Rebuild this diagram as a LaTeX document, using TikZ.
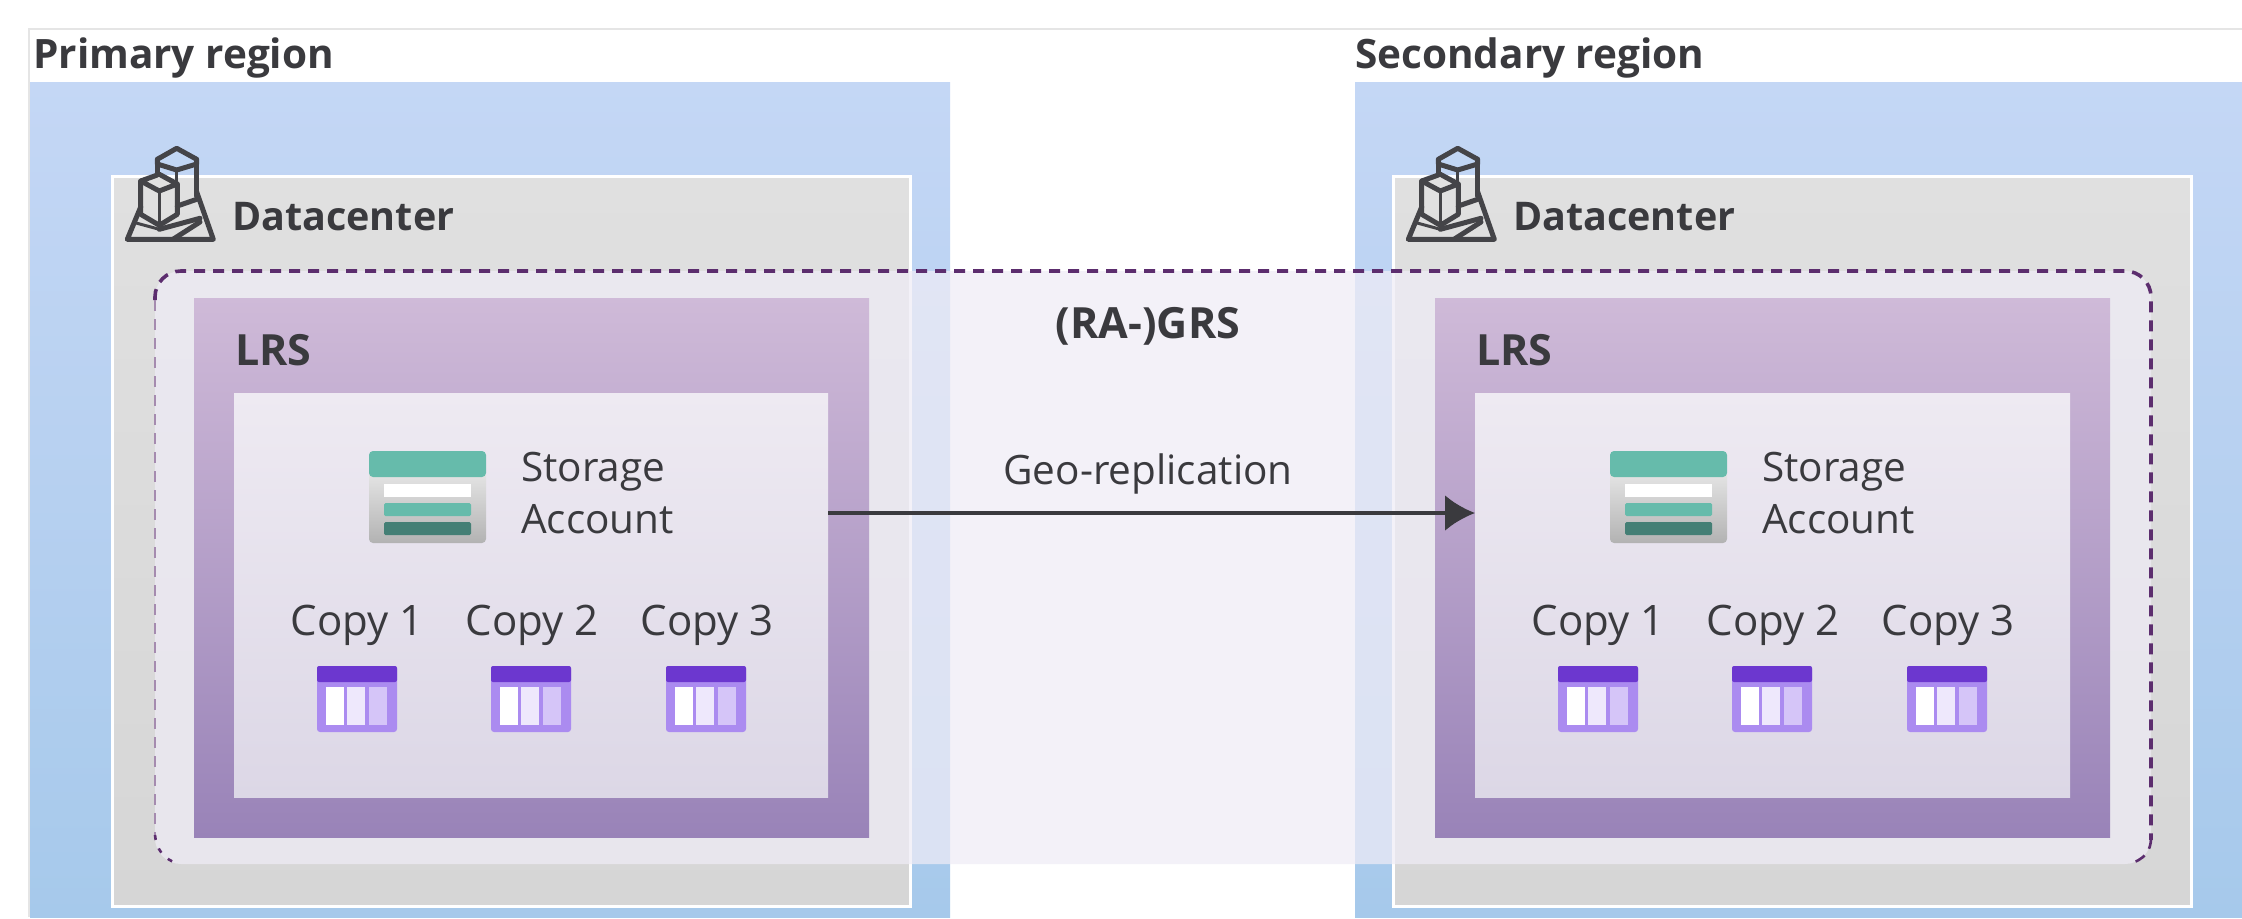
\documentclass[tikz,border=0pt]{standalone}
\usepackage{fontspec}
\setmainfont{Open Sans}
\usetikzlibrary{arrows.meta}
\definecolor{ink}{HTML}{3A3A3E}
\definecolor{tealtop}{HTML}{66BBAB}
\definecolor{tealdark}{HTML}{447F75}
\definecolor{purplehead}{HTML}{6C37CF}
\definecolor{purplebody}{HTML}{AB8BF0}
\definecolor{grsline}{HTML}{5C2D6E}
\definecolor{GrsFill}{HTML}{EFECF6}
\definecolor{RegTop}{HTML}{C4D7F5}\definecolor{RegMid}{HTML}{B6D0F0}\definecolor{RegBot}{HTML}{A6C9EB}
\definecolor{DcTop}{HTML}{E0E0E0}\definecolor{DcBot}{HTML}{D6D6D6}
\definecolor{LrsTop}{HTML}{CFBAD8}\definecolor{LrsBot}{HTML}{9983B8}
\definecolor{InTop}{HTML}{EEEAF2}\definecolor{InBot}{HTML}{DCD7E6}
\tikzset{
  x=1pt,y=-1pt,
  panel/.style={anchor=north west,inner sep=0pt,outer sep=0pt,rectangle},
  regionbox/.style={panel,top color=RegTop,bottom color=RegBot,middle color=RegMid},
  dcbox/.style={panel,draw=white,line width=3pt,top color=DcTop,bottom color=DcBot},
  lrsbox/.style={panel,top color=LrsTop,bottom color=LrsBot},
  innerbox/.style={panel,top color=InTop,bottom color=InBot},
  heading/.style={anchor=base west,inner sep=0pt,text=ink,font=\fontsize{40.5}{48}\selectfont\bfseries},
  dcheading/.style={heading,font=\fontsize{39.5}{48}\selectfont\bfseries},
  bigheading/.style={heading,font=\fontsize{43}{48}\selectfont\bfseries},
  label/.style={anchor=base,inner sep=0pt,text=ink,font=\fontsize{40.5}{48}\selectfont},
  copylabel/.style={label,font=\fontsize{42}{48}\selectfont},
  labelw/.style={label,anchor=base west},
  iconline/.style={draw=ink!95,line width=5pt,line join=round,line cap=round},
  iconthin/.style={iconline,line width=3pt},
  geoarrow/.style={draw=ink,line width=4pt,-{Latex[length=30pt,width=36pt,sharp]}},
  grsdash/.style={grsline,line width=3.6pt,dash pattern=on 11pt off 8pt},
  grsthin/.style={grsline!55,line width=2pt,dash pattern=on 11pt off 8pt},
}
\newcommand\storageicon[2]{%
  \begin{scope}[shift={(#1,#2)}]
    \shade[top color=white!90!black,bottom color=white!70!black,rounded corners=4pt] (0,20) rectangle (117,92);
    \fill[tealtop,rounded corners=4pt] (0,0) rectangle (117,26);
    \fill[white] (15,33) rectangle (102,46);
    \fill[tealtop,rounded corners=1.5pt] (15,52) rectangle (102,65);
    \fill[tealdark,rounded corners=1.5pt] (15,71) rectangle (102,84);
  \end{scope}}
\newcommand\copyicon[2]{%
  \begin{scope}[shift={(#1,#2)}]
    \fill[purplebody,rounded corners=3pt] (0,0) rectangle (80,66);
    \fill[purplehead,rounded corners=2pt] (0,0) rectangle (80,16);
    \fill[white] (9,21) rectangle (27,59);
    \fill[white!80!purplebody] (30,21) rectangle (48,59);
    \fill[white!50!purplebody] (52,21) rectangle (70,59);
  \end{scope}}
\newcommand\dcicon[2]{%
  \begin{scope}[shift={(#1,#2)}]
    % back tower
    \draw[iconline] (50.7,16.3) -- (70.7,27.3) -- (70.7,32) -- (50.7,38) -- (31.3,32) -- (31.3,27.3) -- cycle;
    \draw[iconline] (31.3,27.3) -- (31.3,42) (70.7,27.3) -- (70.7,64);
    \draw[iconthin] (50.7,38) -- (50.7,67);
    % front tower
    \draw[iconline] (33.3,42.3) -- (51.3,52) -- (33.3,59) -- (14.7,49) -- cycle;
    \draw[iconline] (14.7,49) -- (14.7,82.3) -- (33.3,93.3) -- (51.3,82.3) -- (51.3,52);
    \draw[iconthin] (33.3,59) -- (33.3,93.3);
    % hill
    \draw[iconline] (14.7,75) -- (1.3,107.3) -- (87.3,107.3) -- (70.7,60);
    \draw[iconline] (51.3,74) -- (70.7,67.3);
    \draw[iconthin] (9,90.7) -- (33.3,97.3);
    \draw[iconline] (33.3,97.3) -- (74,86.3);
    \draw[iconline] (47,107.3) -- (74,90);
  \end{scope}}
\begin{document}
\begin{tikzpicture}
\useasboundingbox (0,0) rectangle (2242,918);
\fill[white] (0,0) rectangle (2242,918);
% outer hairline
\draw[draw=black!10,line width=2pt] (29,917) -- (29,29) -- (2242,29);
% regions
\node[regionbox,minimum width=920pt,minimum height=835pt] (regionA) at (30,82) {};
\node[regionbox,minimum width=887pt,minimum height=835pt] (regionB) at (1355,82) {};
\node[heading] (regionAt) at (33,68) {Primary region};
\node[heading] (regionBt) at (1355,68) {Secondary region};
% datacenters
\node[dcbox,minimum width=798pt,minimum height=730pt] (dcA) at (112,176) {};
\node[dcbox,minimum width=798pt,minimum height=730pt] (dcB) at (1393,176) {};
\dcicon{126}{132}
\dcicon{1407}{132}
\node[dcheading] (dcAt) at (232,230) {Datacenter};
\node[dcheading] (dcBt) at (1513,230) {Datacenter};
% GRS overlay
\fill[fill=GrsFill,fill opacity=.72,rounded corners=26pt] (155,271) rectangle (2151,864);
\draw[grsdash,rounded corners=26pt] (155,300) |- (2151,271) -- (2151,840);
\draw[grsthin] (155,300) -- (155,835);
\draw[grsdash,line width=2.6pt] (2151,838) .. controls (2151,850) and (2145,860) .. (2128,864);
\draw[grsline,line width=2.6pt,dash pattern=on 5pt off 9pt] (155,835) .. controls (156,848) and (163,860) .. (180,864);
% LRS
\node[lrsbox,minimum width=675pt,minimum height=539pt] (lrsA) at (194,298) {};
\node[lrsbox,minimum width=675pt,minimum height=539pt] (lrsB) at (1435,298) {};
\node[innerbox,minimum width=594pt,minimum height=404pt] (inA) at (234,393) {};
\node[innerbox,minimum width=595pt,minimum height=404pt] (inB) at (1475,393) {};
\node[bigheading] (lrsAt) at (235,365) {LRS};
\node[bigheading] (lrsBt) at (1476,365) {LRS};
\storageicon{369}{451}
\storageicon{1610}{451}
\node[labelw] (sa1) at (521,481) {Storage};
\node[labelw] (sa2) at (521,533) {Account};
\node[labelw] (sb1) at (1762,481) {Storage};
\node[labelw] (sb2) at (1762,533) {Account};
\node[copylabel] (ca1) at (357,635) {Copy 1};
\node[copylabel] (ca2) at (532,635) {Copy 2};
\node[copylabel] (ca3) at (707,635) {Copy 3};
\node[copylabel] (cb1) at (1598,635) {Copy 1};
\node[copylabel] (cb2) at (1773,635) {Copy 2};
\node[copylabel] (cb3) at (1948,635) {Copy 3};
\copyicon{317}{666}\copyicon{491}{666}\copyicon{666}{666}
\copyicon{1558}{666}\copyicon{1732}{666}\copyicon{1907}{666}
% centre
\node[bigheading,anchor=base] (grs) at (1148,338) {(RA-)GRS};
\node[label] (geo) at (1148,484) {Geo-replication};
\coordinate (arrowA) at (inA.east |- 0,513);
\coordinate (arrowB) at (inB.west |- 0,513);
\draw[geoarrow] (arrowA) -- (arrowB);
\end{tikzpicture}
\end{document}
